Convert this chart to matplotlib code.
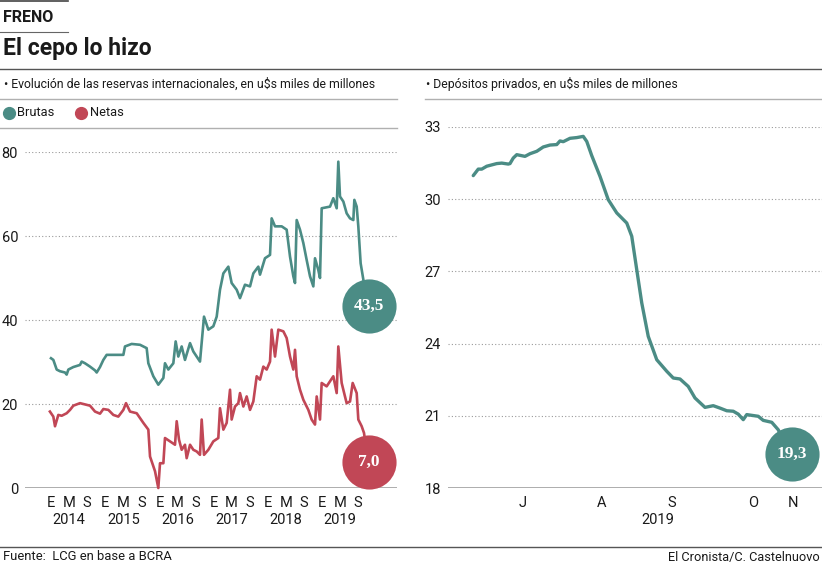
import matplotlib
matplotlib.use("Agg")
import matplotlib.pyplot as plt
from matplotlib.lines import Line2D

W, H = 822, 566
SANS = ['Liberation Sans Narrow', 'Roboto', 'DejaVu Sans']
SERIF = ['Liberation Serif', 'DejaVu Serif']
TEAL = '#4b8c85'
RED = '#c14756'
GRID = '#9a9a9a'
TXT = '#1a1a1a'

# ---------------- data: reserves (decimal years) ----------------
brutas_x = [2014.00, 2014.043, 2014.105, 2014.166, 2014.258, 2014.289, 2014.320, 2014.412,
            2014.535, 2014.566, 2014.627, 2014.720, 2014.812, 2014.843, 2014.904, 2014.966,
            2015.027, 2015.150, 2015.335, 2015.365, 2015.488, 2015.642, 2015.765, 2015.796,
            2015.888, 2015.980, 2016.073, 2016.103, 2016.165, 2016.257, 2016.300, 2016.349,
            2016.411, 2016.472, 2016.565, 2016.626, 2016.749, 2016.823, 2016.903, 2016.995,
            2017.057, 2017.118, 2017.180, 2017.272, 2017.333, 2017.426, 2017.487, 2017.579,
            2017.672, 2017.733, 2017.825, 2017.856, 2017.948, 2018.041, 2018.071, 2018.133,
            2018.256, 2018.348, 2018.410, 2018.471, 2018.502, 2018.533, 2018.594, 2018.656,
            2018.717, 2018.779, 2018.840, 2018.871, 2018.932, 2018.963, 2018.994, 2019.148,
            2019.209, 2019.271, 2019.301, 2019.332, 2019.394, 2019.455, 2019.517, 2019.578,
            2019.597, 2019.640, 2019.670, 2019.713, 2019.763, 2019.800]
brutas_y = [30.9, 30.5, 28.2, 27.8, 27.5, 27.0, 28.2, 28.8,
            29.3, 30.1, 29.7, 28.9, 28.0, 27.5, 28.8, 30.5,
            31.7, 31.7, 31.7, 33.7, 34.3, 34.1, 33.3, 29.7,
            26.6, 24.6, 26.2, 29.7, 28.2, 29.7, 34.9, 31.3,
            33.7, 30.5, 34.5, 32.5, 30.1, 40.8, 37.7, 38.5,
            40.8, 47.2, 51.1, 52.7, 48.8, 47.2, 45.2, 48.4,
            48.0, 51.1, 52.7, 50.8, 54.7, 55.5, 64.2, 62.3,
            62.3, 61.5, 55.1, 50.4, 48.8, 63.8, 61.5, 58.3,
            54.3, 50.4, 48.0, 54.7, 51.9, 50.0, 66.6, 67.0,
            69.0, 66.6, 77.7, 69.4, 68.2, 65.4, 64.2, 63.8,
            68.6, 67.0, 62.3, 53.5, 49.6, 46.0]

netas_x = [2013.98, 2014.043, 2014.074, 2014.135, 2014.197, 2014.289, 2014.351, 2014.412,
           2014.535, 2014.597, 2014.720, 2014.812, 2014.904, 2014.966, 2015.058, 2015.150,
           2015.242, 2015.335, 2015.384, 2015.458, 2015.581, 2015.704, 2015.796, 2015.827,
           2015.919, 2015.980, 2016.011, 2016.073, 2016.103, 2016.196, 2016.288, 2016.319,
           2016.362, 2016.411, 2016.472, 2016.503, 2016.565, 2016.626, 2016.688, 2016.749,
           2016.780, 2016.823, 2016.903, 2016.995, 2017.087, 2017.118, 2017.180, 2017.241,
           2017.303, 2017.333, 2017.395, 2017.456, 2017.487, 2017.549, 2017.610, 2017.672,
           2017.733, 2017.795, 2017.856, 2017.918, 2017.979, 2018.041, 2018.071, 2018.133,
           2018.194, 2018.287, 2018.348, 2018.410, 2018.471, 2018.502, 2018.533, 2018.594,
           2018.656, 2018.748, 2018.809, 2018.871, 2018.902, 2018.963, 2018.994, 2019.086,
           2019.209, 2019.271, 2019.301, 2019.363, 2019.424, 2019.455, 2019.517, 2019.566,
           2019.640, 2019.670, 2019.732, 2019.775, 2019.810]
netas_y = [18.2, 17.0, 14.7, 17.4, 17.2, 17.8, 18.6, 19.6,
           20.2, 20.0, 19.6, 18.2, 17.7, 18.8, 18.6, 17.4,
           17.0, 18.6, 20.2, 18.2, 17.8, 15.5, 13.9, 7.5,
           4.0, 0.0, 5.9, 5.9, 11.9, 11.1, 10.3, 15.9,
           11.5, 9.1, 10.3, 7.1, 10.3, 9.1, 8.7, 7.9,
           16.3, 7.9, 9.1, 11.1, 11.9, 19.0, 13.9, 15.5,
           23.4, 16.3, 19.4, 20.2, 22.6, 19.4, 21.8, 18.6,
           20.6, 26.6, 25.8, 28.9, 28.2, 30.1, 37.7, 31.3,
           37.7, 37.3, 35.7, 31.3, 28.2, 32.9, 26.6, 23.4,
           21.0, 18.6, 16.3, 15.1, 21.8, 16.3, 25.0, 24.2,
           26.6, 22.6, 33.7, 25.0, 21.8, 20.2, 20.6, 25.0,
           22.6, 16.3, 14.7, 13.1, 10.0]

brutas_last = 43.5
netas_last = 7.0
last_x = 2019.87
brutas_circle_y = 43.3
netas_circle_y = 6.3

left_yticks = [0, 20, 40, 60, 80]
years = [2014, 2015, 2016, 2017, 2018, 2019]
month_letters = ['E', 'M', 'S']

# ---------------- data: private deposits (day index) ----------------
dep_x = [10.1, 12.1, 13.5, 15.5, 19.5, 21.5, 24.1, 24.8, 26.1, 27.5, 30.8, 32.8, 35.5, 38.1,
         40.8, 43.5, 44.8, 46.1, 48.8, 51.5, 54.1, 55.5, 57.5, 60.8, 64.1, 67.5, 71.5, 73.5,
         75.5, 77.5, 80.1, 83.5, 87.5, 90.1, 92.8, 96.1, 98.8, 102.8, 106.1, 108.8, 111.5,
         114.1, 116.1, 118.1, 119.5, 122.1, 124.1, 126.1, 129.5, 132.1, 134.0]
dep_y = [30.98, 31.25, 31.25, 31.37, 31.48, 31.50, 31.46, 31.48, 31.71, 31.85, 31.78, 31.89,
         31.99, 32.17, 32.25, 32.27, 32.42, 32.39, 32.53, 32.56, 32.61, 32.40, 31.81, 30.95,
         29.98, 29.43, 29.01, 28.46, 27.07, 25.69, 24.30, 23.33, 22.85, 22.57, 22.53, 22.22,
         21.74, 21.35, 21.42, 21.32, 21.21, 21.19, 21.07, 20.84, 21.05, 21.01, 20.98, 20.81,
         20.73, 20.42, 20.0]
dep_last = 19.3
dep_last_x = 137.6
dep_circle_y = 19.4
right_yticks = [18, 21, 24, 27, 30, 33]
right_month_labels = ['J', 'A', 'S', 'O', 'N']
right_month_pos = [30, 61.6, 89.6, 122, 138]
right_year_pos = 84

# ---------------- figure ----------------
fig = plt.figure(figsize=(W / 100, H / 100), dpi=100)
fig.patch.set_facecolor('white')


def fx(x):
    return x / W


def fy(y):
    return 1 - y / H


def hline(y, x0, x1, color, lw=1.0):
    fig.add_artist(Line2D([fx(x0), fx(x1)], [fy(y), fy(y)], color=color, lw=lw,
                          transform=fig.transFigure))


# header
hline(1, 0, 68, '#444444', 1.2)
fig.text(fx(3), fy(17), 'FRENO', fontsize=11.5, fontweight='bold', family=SANS,
         color=TXT, va='center', ha='left')
hline(32, 0, 68, '#666666', 0.8)
fig.text(fx(3), fy(49), 'El cepo lo hizo', fontsize=16.5, fontweight='bold', family=SANS,
         color=TXT, va='center', ha='left')
hline(69, 0, 822, '#555555', 1.0)

fig.text(fx(4), fy(84), '• Evolución de las reservas internacionales, en u$s miles de millones',
         fontsize=8.8, family=SANS, color=TXT, va='center', ha='left')
fig.text(fx(426), fy(84), '• Depósitos privados, en u$s miles de millones',
         fontsize=8.8, family=SANS, color=TXT, va='center', ha='left')
hline(99, 0, 397, '#b0b0b0', 1.0)
hline(99, 425, 822, '#b0b0b0', 1.0)

# legend
fig.add_artist(Line2D([fx(9)], [fy(113)], marker='o', markersize=8.5, color=TEAL, lw=0,
                      transform=fig.transFigure))
fig.text(fx(17), fy(113), 'Brutas', fontsize=9.3, family=SANS, color=TXT, va='center')
fig.add_artist(Line2D([fx(81)], [fy(113)], marker='o', markersize=8.5, color=RED, lw=0,
                      transform=fig.transFigure))
fig.text(fx(90), fy(113), 'Netas', fontsize=9.3, family=SANS, color=TXT, va='center')
hline(128, 0, 397, '#b0b0b0', 1.0)

# footer
hline(547, 0, 822, '#555555', 1.0)
fig.text(fx(3), fy(557), 'Fuente:  LCG en base a BCRA', fontsize=9.4, family=SANS,
         color=TXT, va='center', ha='left')
fig.text(fx(820), fy(557), 'El Cronista/C. Castelnuovo', fontsize=9.2, family=SANS,
         color=TXT, va='center', ha='right')

# ---------------- left axes ----------------
axL = fig.add_axes([fx(25), fy(488), (397 - 25) / W, (488 - 152) / H])
axL.set_xlim(2014 - 26 / 54.2, 2014 + 346 / 54.2)
axL.set_ylim(0, 80)
for s in axL.spines.values():
    s.set_visible(False)
for v in left_yticks[1:]:
    axL.axhline(v, color=GRID, lw=0.8, ls=(0, (1, 2)), zorder=1)
axL.axhline(0, color='#a0a0a0', lw=1.2, zorder=1)
axL.plot(brutas_x, brutas_y, color=TEAL, lw=1.9, solid_joinstyle='round', zorder=3,
         clip_on=False)
axL.plot(netas_x, netas_y, color=RED, lw=1.9, solid_joinstyle='round', zorder=3,
         clip_on=False)
axL.scatter([last_x], [brutas_circle_y], s=1520, color=TEAL, zorder=5, clip_on=False,
            linewidths=0)
axL.scatter([last_x], [netas_circle_y], s=1520, color=RED, zorder=5, clip_on=False,
            linewidths=0)
axL.text(last_x, brutas_circle_y, f'{brutas_last:.1f}'.replace('.', ','), color='white',
         fontsize=12.5, fontweight='bold', family=SERIF, ha='center', va='center', zorder=6)
axL.text(last_x, netas_circle_y, f'{netas_last:.1f}'.replace('.', ','), color='white',
         fontsize=12.5, fontweight='bold', family=SERIF, ha='center', va='center', zorder=6)

axL.set_yticks(left_yticks)
axL.set_yticklabels([str(v) for v in left_yticks], family=SANS, fontsize=10.5, color=TXT)
tick_pos = []
tick_lab = []
for yr in years:
    for k, m in enumerate(month_letters):
        tick_pos.append(yr + k * 4 / 12)
        tick_lab.append(m)
axL.set_xticks(tick_pos)
axL.set_xticklabels(tick_lab, family=SANS, fontsize=10.5, color=TXT)
axL.tick_params(axis='both', length=0)
axL.tick_params(axis='x', pad=6)
axL.tick_params(axis='y', pad=5)
for yr in years:
    axL.text(yr + 4 / 12, -0.095, str(yr), transform=axL.get_xaxis_transform(),
             family=SANS, fontsize=10.5, color=TXT, ha='center', va='center')

# ---------------- right axes ----------------
axR = fig.add_axes([fx(448), fy(488), (822 - 448) / W, (488 - 127) / H])
axR.set_xlim(0, 149.6)
axR.set_ylim(18, 33)
for s in axR.spines.values():
    s.set_visible(False)
for v in right_yticks[1:]:
    axR.axhline(v, color=GRID, lw=0.8, ls=(0, (1, 2)), zorder=1)
axR.axhline(18, color='#a0a0a0', lw=1.2, zorder=1)
axR.plot(dep_x, dep_y, color=TEAL, lw=2.4, solid_joinstyle='round',
         solid_capstyle='round', zorder=3)
axR.scatter([dep_last_x], [dep_circle_y], s=1520, color=TEAL, zorder=5, clip_on=False,
            linewidths=0)
axR.text(dep_last_x, dep_circle_y, f'{dep_last:.1f}'.replace('.', ','), color='white',
         fontsize=12.5, fontweight='bold', family=SERIF, ha='center', va='center', zorder=6)
axR.set_yticks(right_yticks)
axR.set_yticklabels([str(v) for v in right_yticks], family=SANS, fontsize=10.5, color=TXT)
axR.set_xticks(right_month_pos)
axR.set_xticklabels(right_month_labels, family=SANS, fontsize=10.5, color=TXT)
axR.tick_params(axis='both', length=0)
axR.tick_params(axis='x', pad=6)
axR.tick_params(axis='y', pad=5)
axR.text(right_year_pos, -0.088, '2019', transform=axR.get_xaxis_transform(),
         family=SANS, fontsize=10.5, color=TXT, ha='center', va='center')

fig.savefig('out.png', dpi=100, facecolor='white')
